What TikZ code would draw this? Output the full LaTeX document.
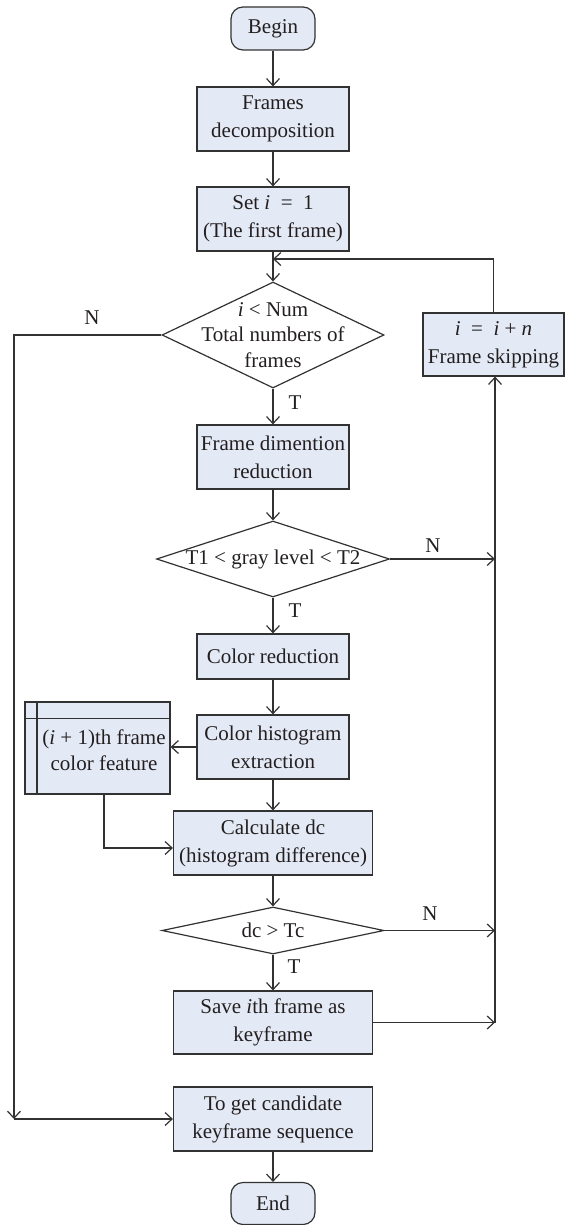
\documentclass[tikz,border=0pt]{standalone}
\usepackage{fontspec}
\setmainfont{Liberation Serif}
\usetikzlibrary{arrows.meta,shapes.geometric,calc}
\definecolor{boxfill}{RGB}{228,234,245}
\definecolor{linecol}{RGB}{50,50,50}
\definecolor{txtcol}{RGB}{35,31,32}
\tikzset{
  base/.style={draw=linecol,line width=0.6pt,fill=boxfill,inner sep=0pt,align=center,text=txtcol,
    font=\fontsize{10.5}{14}\selectfont},
  procbox/.style={base,rectangle},
  termbox/.style={base,rectangle,rounded corners=6pt},
  decbox/.style={base,diamond,fill=white,aspect=2},
  txt/.style={inner sep=0pt,align=center,text=txtcol,font=\fontsize{10.5}{12.8}\selectfont},
  arr/.style={draw=linecol,line width=0.6pt,-{Straight Barb[length=3.5pt,width=6.5pt]}},
  ln/.style={draw=linecol,line width=0.6pt}
}
\begin{document}
\begin{tikzpicture}[x=0.5pt,y=-0.5pt]
\useasboundingbox (0,0) rectangle (565,1225);
% nodes
\node[termbox,minimum width=42pt,minimum height=21.5pt] (begin) at (273,28.5) {Begin};
\node[procbox,minimum width=76pt,minimum height=32pt] (fd) at (273,119) {Frames\\decomposition};
\node[procbox,minimum width=76pt,minimum height=32pt] (set) at (273,219) {Set \textit{i}\ \ =\ \ 1\\(The first frame)};
\node[decbox,minimum width=111pt,minimum height=53pt] (d1) at (273,335) {};
\node[txt] at (d1) {\textit{i} < Num\\Total numbers of\\frames};
\node[procbox,minimum width=70.5pt,minimum height=31.5pt] (skip) at (493.5,344.5) {\textit{i}\ \ =\ \ \textit{i} + \textit{n}\\Frame skipping};
\node[procbox,minimum width=76pt,minimum height=32pt] (dim) at (273,457) {Frame dimention\\reduction};
\node[decbox,minimum width=116.5pt,minimum height=38pt] (d2) at (273,559) {};
\node[txt] at (d2) {T1 < gray level < T2};
\node[procbox,minimum width=76pt,minimum height=22.5pt] (cr) at (273,656.5) {Color reduction};
\node[procbox,minimum width=76pt,minimum height=32pt] (ch) at (273,747) {Color histogram\\extraction};
\node[procbox,minimum width=72.5pt,minimum height=46pt] (fb) at (97.5,748) {};
\node[txt,font=\fontsize{10.5}{13.2}\selectfont] (fbt) at (104,750) {(\textit{i} + 1)th frame\\color feature};
\node[procbox,minimum width=99.5pt,minimum height=32pt] (calc) at (273,843) {Calculate dc\\(histogram difference)};
\node[decbox,minimum width=111pt,minimum height=23.5pt] (d3) at (273,930.5) {};
\node[txt] at (d3) {dc > Tc};
\node[procbox,minimum width=99.5pt,minimum height=31.5pt] (save) at (273,1022.5) {Save \textit{i}th frame as\\keyframe};
\node[procbox,minimum width=99.5pt,minimum height=32pt] (final) at (273,1119) {To get candidate\\keyframe sequence};
\node[termbox,minimum width=42pt,minimum height=21pt] (end) at (273,1203.5) {End};
% inner lines of the stored-data box
\draw[ln] ($(fb.north west)+(12.5,0)$) -- ($(fb.south west)+(12.5,0)$);
\draw[ln] ($(fb.north west)+(0,17)$) -- ($(fb.north east)+(0,17)$);
% coordinates
\coordinate (m) at (273,259);
\coordinate (rc) at (495,1022.5);
\coordinate (lc) at (14,1119);
% connectors
\draw[arr] (begin) -- (fd);
\draw[arr] (fd) -- (set);
\draw[arr] (set) -- (d1);
\draw[arr] (skip.north) |- (m);
\draw[arr] (d1) -- (dim);
\draw[arr] (dim) -- (d2);
\draw[arr] (d2) -- (cr);
\draw[arr] (cr) -- (ch);
\draw[arr] (ch.west) -- (ch.west -| fb.east);
\draw[arr] (ch) -- (calc);
\draw[arr] (fb.south -| fbt) |- ($(calc.west)+(0,5)$);
\draw[arr] (calc) -- (d3);
\draw[arr] (d3) -- (save);
\draw[arr] (save.east) -- (rc);
\draw[arr] (rc) -- (skip.south -| rc);
\draw[arr] (d2.east) -- (d2.east -| rc);
\draw[arr] (d3.east) -- (d3.east -| rc);
\draw[arr] (d1.west) -| (lc);
\draw[arr] (lc) -- (final.west);
\draw[arr] (final) -- (end);
% labels
\node[txt] (n1) at (92,318) {N};
\node[txt] (n2) at (433,546) {N};
\node[txt] (n3) at (430,914) {N};
\node[txt] (t1) at (295,403) {T};
\node[txt] (t2) at (295,611) {T};
\node[txt] (t3) at (294,967) {T};
\end{tikzpicture}
\end{document}
